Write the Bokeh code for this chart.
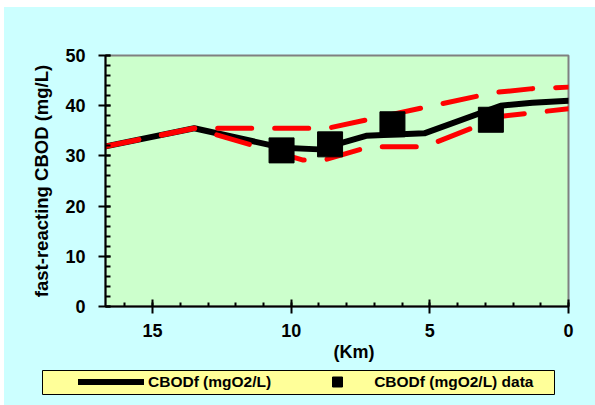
from bokeh.plotting import figure
from bokeh.models import (Range1d, SingleIntervalTicker, Legend, LegendItem, Title, Spacer)
from bokeh.layouts import column, row
from bokeh.embed import file_html
from bokeh.resources import INLINE

# ---- data ----
model_km = [16.7, 13.5, 10.3, 9.0, 7.3, 5.2, 2.45, 1.3, 0.0]
model_cbodf = [31.9, 35.5, 31.6, 31.3, 34.0, 34.5, 40.0, 40.6, 41.0]

upper_km = [16.7, 13.5, 8.7, 2.7, 1.3, 0.0]
upper_cbodf = [31.9, 35.5, 35.5, 42.6, 43.4, 43.7]

lower_km = [16.7, 13.5, 9.6, 8.8, 7.2, 5.2, 2.4, 0.0]
lower_cbodf = [31.9, 35.5, 29.2, 29.2, 31.8, 31.8, 37.9, 39.4]

data_km = [10.35, 8.6, 6.35, 2.8]
data_cbodf = [31.1, 32.3, 36.3, 37.2]

x_ticks_interval = 5
y_ticks_interval = 10
legend_labels = ["CBODf (mgO2/L)", "CBODf (mgO2/L) data"]

FONT = "Liberation Sans"
OUTER = "#CCFFFF"

# ---- main chart ----
p = figure(width=591, height=362, output_backend="svg", toolbar_location=None,
           x_range=Range1d(16.7, 0), y_range=Range1d(0, 50),
           min_border_left=101, min_border_right=27,
           min_border_top=48, min_border_bottom=63)
p.background_fill_color = "#CCFFCC"
p.border_fill_color = OUTER
p.outline_line_color = "#808080"
p.outline_line_width = 2
p.grid.visible = False

p.xaxis.ticker = SingleIntervalTicker(interval=x_ticks_interval, num_minor_ticks=5)
p.yaxis.ticker = SingleIntervalTicker(interval=y_ticks_interval, num_minor_ticks=5)

for ax in (p.xaxis[0], p.yaxis[0]):
    ax.axis_line_color = "black"
    ax.axis_line_width = 2
    ax.major_tick_line_color = "black"
    ax.major_tick_line_width = 2
    ax.minor_tick_line_color = "black"
    ax.minor_tick_line_width = 2
    ax.major_tick_out = 7
    ax.minor_tick_out = 0
    ax.major_label_text_font = FONT
    ax.major_label_text_font_style = "bold"
    ax.major_label_text_font_size = "18px"
    ax.major_label_text_color = "black"

p.xaxis.major_tick_in = 7
p.xaxis.minor_tick_in = 4
p.xaxis.major_label_standoff = 10
p.yaxis.major_tick_in = 5
p.yaxis.minor_tick_in = 5
p.yaxis.major_label_standoff = 13

p.yaxis.axis_label = "fast-reacting CBOD (mg/L)"
p.yaxis.axis_label_text_font = FONT
p.yaxis.axis_label_text_font_style = "bold"
p.yaxis.axis_label_text_font_size = "18.5px"
p.yaxis.axis_label_text_color = "black"
p.yaxis.axis_label_standoff = 10

p.add_layout(Title(text="(Km)", align="left", offset=228, standoff=0,
                   text_font=FONT, text_font_style="bold", text_font_size="18px",
                   text_color="black"), "below")

p.line(model_km, model_cbodf, line_color="black", line_width=6,
       line_join="round", line_cap="round")
p.line(upper_km, upper_cbodf, line_color="#FF0000", line_width=5,
       line_dash="34 23", line_cap="round", line_join="round")
p.line(lower_km, lower_cbodf, line_color="#FF0000", line_width=5,
       line_dash="34 23", line_cap="round", line_join="round")
p.scatter(data_km, data_cbodf, marker="square", size=25,
          fill_color="black", line_color="black")

# ---- legend box (its frame is the yellow legend box) ----
p2 = figure(width=514, height=26, output_backend="svg", toolbar_location=None,
            x_axis_location=None, y_axis_location=None,
            min_border_left=1, min_border_right=1,
            min_border_top=1, min_border_bottom=1)
p2.grid.visible = False
p2.border_fill_color = OUTER
p2.background_fill_color = "#FFFF99"
p2.outline_line_color = "black"
p2.outline_line_width = 1

leg_line = p2.line(model_km, model_cbodf, line_color="black", line_width=6,
                   line_cap="round", visible=False)
leg_sq = p2.scatter(data_km, data_cbodf, marker="square",
                    fill_color="black", line_color="black", visible=False)

legend = Legend(items=[LegendItem(label=legend_labels[0], renderers=[leg_line]),
                       LegendItem(label=legend_labels[1], renderers=[leg_sq])],
                location=(36, 0), orientation="horizontal",
                padding=0, margin=0, spacing=33, glyph_width=66, glyph_height=25,
                label_standoff=4, label_height=24,
                label_text_font=FONT, label_text_font_style="bold",
                label_text_font_size="15.5px", label_text_color="black",
                background_fill_alpha=0, border_line_alpha=0)
p2.add_layout(legend, "center")

bg = {"background-color": OUTER}
inner = column(p,
               row(Spacer(width=37, height=26, styles=bg), p2,
                   Spacer(width=40, height=26, styles=bg), styles=bg),
               Spacer(width=591, height=10, styles=bg),
               styles=bg)

layout = column(Spacer(width=595, height=7),
                row(Spacer(width=4, height=398), inner))

open("out.html", "w").write(file_html(layout, INLINE))
